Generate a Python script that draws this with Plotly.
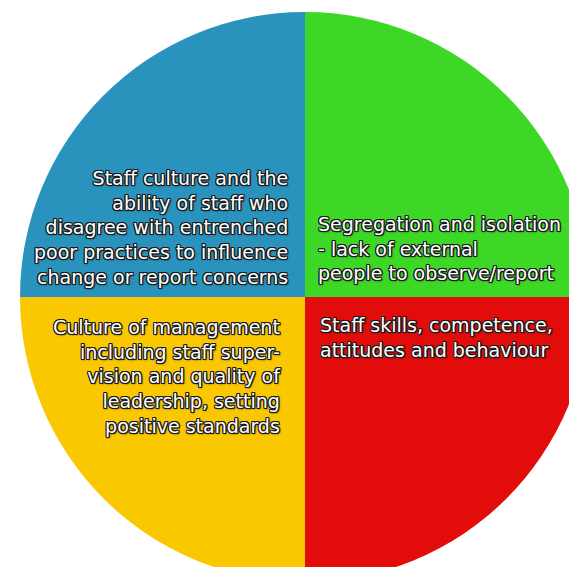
import plotly.graph_objects as go

# Data: four equal factors, listed clockwise from 12 o'clock
labels = [
    "Segregation and isolation<br>- lack of external<br>people to observe/report",
    "Staff skills, competence,<br>attitudes and behaviour",
    "Culture of management<br>including staff super-<br>vision and quality of<br>leadership, setting<br>positive standards",
    "Staff culture and the<br>ability of staff who<br>disagree with entrenched<br>poor practices to influence<br>change or report concerns",
]
values = [1, 1, 1, 1]
colors = ["#3DD826", "#E20C0A", "#FAC800", "#2993BE"]

W, H = 590, 583

fig = go.Figure(
    go.Pie(
        labels=labels,
        values=values,
        sort=False,
        direction="clockwise",
        rotation=0,
        marker=dict(colors=colors, line=dict(width=0)),
        textinfo="none",
        hoverinfo="skip",
        showlegend=False,
        domain=dict(x=[20 / W, 1], y=[0, 1 - 11 / H]),
    )
)

shadow = ("-1px -1px 0 #1a1a1a, 1px -1px 0 #1a1a1a, -1px 1px 0 #1a1a1a, 1px 1px 0 #1a1a1a, "
          "0 -1px 0 #1a1a1a, 0 1px 0 #1a1a1a, -1px 0 0 #1a1a1a, 1px 0 0 #1a1a1a, "
          "1px 1px 2px #1a1a1a")
font = dict(family="DejaVu Sans", size=19, color="white", shadow=shadow)

# label placement: (x px, y px center, xanchor, align)
placements = [
    (316, 248, "left", "left"),
    (318, 337, "left", "left"),
    (283, 376, "right", "right"),
    (290, 227, "right", "right"),
]
for text, (px, py, xa, al) in zip(labels, placements):
    fig.add_annotation(
        text=text, x=px / W, y=1 - py / H, xref="paper", yref="paper",
        xanchor=xa, yanchor="middle", align=al, showarrow=False, font=font,
    )

fig.update_layout(
    width=W, height=H, autosize=False,
    margin=dict(l=0, r=0, t=0, b=0),
    paper_bgcolor="white", plot_bgcolor="white",
)

fig.write_html(
    "out.html",
    post_script="document.documentElement.style.overflow='hidden';document.body.style.overflow='hidden';document.body.style.margin='0';",
)
